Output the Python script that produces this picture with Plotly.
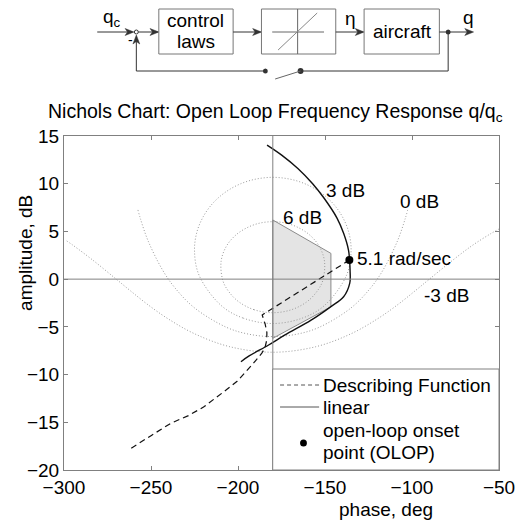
import plotly.graph_objects as go

FONT = "Liberation Sans, Arial, Helvetica, sans-serif"
FS = 19

# ---------------- data ----------------
# Nichols closed-loop gain contours
c6_phase = [-180, -190.8, -199.6, -205.4, -208.7, -209.7, -206.6, -201.2, -194.6, -187.5, -180,
            -172.5, -165.4, -158.8, -153.4, -150.3, -151.3, -154.6, -160.4, -169.2, -180]
c6_amp = [-3.52, -3.20, -2.37, -1.28, -0.15, 1.88, 3.47, 4.63, 5.41, 5.87, 6.02,
          5.87, 5.41, 4.63, 3.47, 1.88, -0.15, -1.28, -2.37, -3.20, -3.52]

c3_phase = [-180, -197.2, -210.0, -222.4, -225.0, -223.5, -219.9, -215.3, -210.0, -204.3, -198.4, -192.4, -186.2, -180,
            -173.8, -167.6, -161.6, -155.7, -150.0, -144.7, -140.1, -136.5, -135.0, -137.6, -150.0, -162.8, -180]
c3_amp = [-4.65, -4.07, -2.71, 0.42, 3.01, 5.01, 6.57, 7.78, 8.73, 9.46, 10.0, 10.37, 10.59, 10.67,
          10.59, 10.37, 10.0, 9.46, 8.73, 7.78, 6.57, 5.01, 3.01, 0.42, -2.71, -4.07, -4.65]

c0_phase = [-257.5, -256.0, -251.6, -243.4, -236.3, -225.0, -206.6, -194.0, -180,
            -166.0, -153.4, -135.0, -123.7, -116.6, -108.4, -104.0, -102.5]
c0_amp = [7.25, 6.28, 3.98, 0.97, -0.90, -3.01, -5.05, -5.76, -6.02,
          -5.76, -5.05, -3.01, -0.90, 0.97, 3.98, 6.28, 7.25]

cm3_phase = [-298.4, -294.9, -283.5, -270.0, -261.9, -252.4, -240.5, -225.0, -204.7, -180,
             -155.3, -135.0, -119.5, -107.6, -98.1, -90.0, -76.5, -65.1, -54.7, -48.2]
cm3_amp = [4.0, 3.56, 2.0, 0.0, -1.21, -2.59, -4.12, -5.72, -7.08, -7.66,
           -7.08, -5.72, -4.12, -2.59, -1.21, 0.0, 2.0, 3.56, 4.77, 5.43]

contour_labels = ["6 dB", "3 dB", "0 dB", "-3 dB"]
label_phase = [-162.9, -138.2, -95.5, -80.3]
label_amp = [6.5, 9.3, 8.1, -1.7]

# linear open-loop frequency response
lin_phase = [-183.3, -174.9, -165.6, -157.1, -150.6, -143.1, -139.3, -136.5, -135.9, -135.6,
             -135.8, -139.3, -146.8, -158.0, -173.0, -182.4, -193.6, -198.3]
lin_amp = [14.05, 13.0, 11.6, 10.0, 8.5, 6.4, 4.8, 3.05, 2.0, 0.95,
           -0.45, -1.85, -2.9, -4.3, -5.85, -6.9, -8.05, -8.65]

# describing function
df_phase = [-136.0, -186.1, -184.4, -183.4, -183.5, -184.5, -186.3, -188.5, -191.5, -195.5,
            -200.5, -206.7, -213.0, -219.8, -228.5, -238.6, -250.0, -263.0]
df_amp = [2.0, -3.75, -4.7, -5.6, -6.4, -7.2, -7.75, -8.25, -8.9, -9.7,
          -10.7, -11.6, -12.5, -13.4, -14.3, -15.1, -16.4, -17.9]

# open-loop onset point
olop_phase = [-136.0]
olop_amp = [2.0]
olop_label = "5.1 rad/sec"

# shaded region
reg_phase = [-180, -146.6, -146.6, -180, -180]
reg_amp = [6.2, 2.7, -2.9, -6.2, 6.2]

x_ticks = [-300, -250, -200, -150, -100, -50]
y_ticks = [15, 10, 5, 0, -5, -10, -15, -20]

# ---------------- layout helpers (pixel -> paper) ----------------
L, R, T, B = 64, 509, 136, 470
W, H = 527, 523


def px(x):
    return (x - L) / (R - L)


def py(y):
    return (B - y) / (B - T)


fig = go.Figure()

fig.add_trace(go.Scatter(x=reg_phase, y=reg_amp, mode="lines", fill="toself",
                         fillcolor="#e4e4e4", line=dict(color="#8a8a8a", width=1),
                         hoverinfo="skip", showlegend=False))

for ph, am in [(c6_phase, c6_amp), (c3_phase, c3_amp), (c0_phase, c0_amp), (cm3_phase, cm3_amp)]:
    fig.add_trace(go.Scatter(x=ph, y=am, mode="lines",
                             line=dict(color="#9a9a9a", width=1, dash="1px,2px", shape="spline"),
                             showlegend=False))

fig.add_trace(go.Scatter(x=lin_phase, y=lin_amp, mode="lines",
                         line=dict(color="#111111", width=1.4, shape="spline"), showlegend=False))
fig.add_trace(go.Scatter(x=df_phase, y=df_amp, mode="lines",
                         line=dict(color="#111111", width=1.2, dash="6px,4px"), showlegend=False))
fig.add_trace(go.Scatter(x=olop_phase, y=olop_amp, mode="markers",
                         marker=dict(color="black", size=8), showlegend=False))

shapes = []
ann = []
GRAY = "#808080"

# reference lines
shapes.append(dict(type="line", xref="x", yref="paper", x0=-180, x1=-180, y0=0, y1=1,
                   line=dict(color=GRAY, width=1), layer="above"))
shapes.append(dict(type="line", xref="paper", yref="y", x0=0, x1=1, y0=0, y1=0,
                   line=dict(color=GRAY, width=1), layer="above"))

for t, xx, yy in zip(contour_labels, label_phase, label_amp):
    ann.append(dict(x=xx, y=yy, xref="x", yref="y", text=t, showarrow=False,
                    xanchor="center", yanchor="middle", font=dict(size=FS, color="black")))
ann.append(dict(x=olop_phase[0] + 3.5, y=olop_amp[0] + 0.2, xref="x", yref="y", text=olop_label,
                showarrow=False, xanchor="left", yanchor="middle", font=dict(size=FS, color="black")))

# legend box
shapes.append(dict(type="rect", xref="paper", yref="paper", x0=px(277.5), x1=1, y0=0, y1=py(369),
                   fillcolor="white", line=dict(color=GRAY, width=1), layer="above"))
shapes.append(dict(type="line", xref="paper", yref="paper", x0=px(285), x1=px(325), y0=py(385), y1=py(385),
                   line=dict(color="#555555", width=1, dash="4px,3px"), layer="above"))
shapes.append(dict(type="line", xref="paper", yref="paper", x0=px(285), x1=px(325), y0=py(407), y1=py(407),
                   line=dict(color="#555555", width=1), layer="above"))
shapes.append(dict(type="circle", xref="paper", yref="paper", x0=px(305.5), x1=px(312.5), y0=py(446.5), y1=py(439.5),
                   fillcolor="black", line=dict(color="black", width=0), layer="above"))
for txt, yy in [("Describing Function", 385), ("linear", 407), ("open-loop onset", 430), ("point (OLOP)", 452)]:
    ann.append(dict(x=px(327), y=py(yy), xref="paper", yref="paper", text=txt, showarrow=False,
                    xanchor="left", yanchor="middle", font=dict(size=FS, color="black")))

# title / axis titles
ann.append(dict(x=px(280), y=py(112), xref="paper", yref="paper",
                text="Nichols Chart: Open Loop Frequency Response q/q<sub>c</sub>", showarrow=False,
                xanchor="center", yanchor="middle", font=dict(size=FS + 0.5, color="black")))
ann.append(dict(x=px(24), y=py(253), xref="paper", yref="paper", text="amplitude, dB", textangle=-90,
                showarrow=False, xanchor="center", yanchor="middle", font=dict(size=FS, color="black")))
ann.append(dict(x=px(393), y=py(509), xref="paper", yref="paper", text="phase, deg",
                showarrow=False, xanchor="center", yanchor="middle", font=dict(size=FS, color="black")))

# ---------------- block diagram ----------------
BK = "#333333"
BOX = "#777777"


def line(x0, y0, x1, y1, color=BK, width=1):
    shapes.append(dict(type="line", xref="paper", yref="paper", x0=px(x0), y0=py(y0), x1=px(x1), y1=py(y1),
                       line=dict(color=color, width=width)))


def rect(x0, y0, x1, y1):
    shapes.append(dict(type="rect", xref="paper", yref="paper", x0=px(x0), y0=py(y1), x1=px(x1), y1=py(y0),
                       line=dict(color=BOX, width=1)))


def dot(x, y, r):
    shapes.append(dict(type="circle", xref="paper", yref="paper", x0=px(x - r), x1=px(x + r),
                       y0=py(y + r), y1=py(y - r), fillcolor=BK, line=dict(color=BK, width=0)))


def head_right(x, y):
    p = "M {} {} L {} {} L {} {} L {} {} Z".format(px(x), py(y), px(x - 9), py(y - 3.5),
                                                  px(x - 6.5), py(y), px(x - 9), py(y + 3.5))
    shapes.append(dict(type="path", xref="paper", yref="paper", path=p, fillcolor=BK, line=dict(color=BK, width=0.5)))


def head_up(x, y):
    p = "M {} {} L {} {} L {} {} L {} {} Z".format(px(x), py(y), px(x - 3.5), py(y + 9),
                                                  px(x), py(y + 6.5), px(x + 3.5), py(y + 9))
    shapes.append(dict(type="path", xref="paper", yref="paper", path=p, fillcolor=BK, line=dict(color=BK, width=0.5)))


def text(x, y, t, size=FS):
    ann.append(dict(x=px(x), y=py(y), xref="paper", yref="paper", text=t, showarrow=False,
                    xanchor="center", yanchor="middle", font=dict(size=size, color="black")))


# input and summing junction
line(98, 32, 134, 32)
head_right(135.5, 32)
shapes.append(dict(type="circle", xref="paper", yref="paper", x0=px(136), x1=px(140), y0=py(34), y1=py(30),
                   line=dict(color=BK, width=1), fillcolor="white"))
text(113, 18, "q<sub>c</sub>")
text(132, 40, "-", size=14)

line(140, 32, 160, 32)
head_right(161, 32)
rect(161, 9, 237, 54)
text(199, 21, "control")
text(199, 42, "laws")

line(237, 32, 265, 32)
head_right(266, 32)
rect(266, 9, 342, 54)
line(277, 32, 330, 32, color="#666666")
line(303, 9, 303, 54, color="#666666")
line(283, 50, 323, 13, color="#888888")

line(342, 32, 370, 32)
head_right(371, 32)
text(357, 19, "η")
rect(371, 9, 448, 54)
text(410, 31, "aircraft")

line(448, 32, 481, 32)
head_right(483, 32)
dot(457, 32, 2.5)
text(478, 17, "q")

# feedback path with switch
line(457, 32, 457, 71)
line(457, 71, 306, 71)
dot(306, 71, 3)
line(306, 71, 280, 79, color="#666666")
dot(270, 71, 2.5)
line(270, 71, 138, 71)
line(138, 71, 138, 37)
head_up(138, 35)

fig.update_layout(
    width=W, height=H,
    margin=dict(l=L, r=W - R, t=T, b=H - B, pad=0),
    paper_bgcolor="white", plot_bgcolor="white",
    font=dict(family=FONT, size=FS, color="black"),
    showlegend=False,
    shapes=shapes, annotations=ann,
    xaxis=dict(range=[-300, -50], tickvals=x_ticks, ticks="inside", ticklen=4, tickcolor=GRAY,
               showline=True, linecolor=GRAY, mirror="ticks", showgrid=False, zeroline=False,
               tickfont=dict(size=FS, color="black")),
    yaxis=dict(range=[-20, 15], tickvals=y_ticks, ticks="inside", ticklen=4, tickcolor=GRAY,
               showline=True, linecolor=GRAY, mirror="ticks", showgrid=False, zeroline=False,
               tickfont=dict(size=FS, color="black")),
)

fig.write_html("out.html", config={"displayModeBar": False},
               post_script="document.body.style.margin='0';document.body.style.overflow='hidden';")
